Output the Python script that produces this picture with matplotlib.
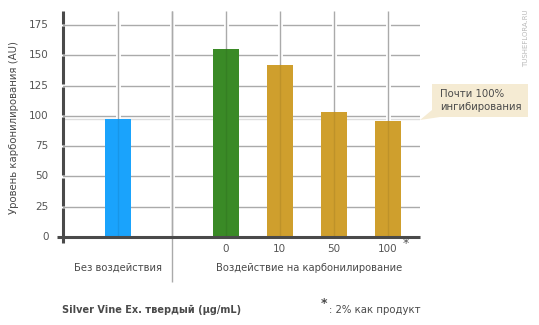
import matplotlib
matplotlib.use("Agg")
import matplotlib.pyplot as plt
import matplotlib.patheffects as pe
from matplotlib.patches import Polygon

plt.rcParams['font.family'] = ['DejaVu Sans']

# Data
dose_labels = ["0", "10", "50", "100"]
control_value = 97
dose_values = [155, 142, 103, 96]
y_ticks = [0, 25, 50, 75, 100, 125, 150, 175]
group_labels = ["Без воздействия", "Воздействие на карбонилирование"]

BLUE = "#1aa3fc"
GREEN = "#3a8a26"
GOLD = "#cf9f2d"
GRID = "#aaaaaa"
TXT = "#555555"
DARK = "#4a4a4a"

fig = plt.figure(figsize=(5.39, 3.25), dpi=100)
ax = fig.add_axes([63/539, 1-243/325, (420-63)/539, (243-11)/325])
ymin, ymax = -4.95, 186.5
ax.set_xlim(-1.02, 5.6)
ax.set_ylim(ymin, ymax)
for s in ax.spines.values():
    s.set_visible(False)
ax.set_xticks([])
ax.set_yticks([])

positions = [0, 2, 3, 4, 5]
values = [control_value] + dose_values
colors = [BLUE, GREEN, GOLD, GOLD, GOLD]

# horizontal grid
for t in y_ticks[1:]:
    ax.axhline(t, color=GRID, lw=1.0, zorder=1)
# reference line at control level
ax.axhline(control_value, color="#dddddd", lw=1.0, zorder=1.2)

# vertical grid with a white halo so horizontal lines look broken
halo = [pe.Stroke(linewidth=3.5, foreground="white"), pe.Normal()]
for x in range(0, 6):
    ax.plot([x, x], [0, ymax], color=GRID, lw=1.0, zorder=1.5,
            path_effects=halo, solid_capstyle="butt")
# separator between groups extends below the axis
ax.plot([1, 1], [-37.5, ymax], color=GRID, lw=1.0, zorder=1.5,
        clip_on=False, solid_capstyle="butt")

ax.bar(positions, values, width=0.48, color=colors, zorder=2)
for x, v in zip(positions, values):
    ax.plot([x, x], [0, v], color="black", alpha=0.08, lw=1, zorder=2.5)

# baseline
ax.plot([-1.13, 5.6], [0, 0], color=DARK, lw=2.2, zorder=3, clip_on=False,
        solid_capstyle="butt")

# left spine, broken at the grid lines
edges = [ymin] + y_ticks[1:] + [ymax]
for a, b in zip(edges[:-1], edges[1:]):
    lo = a + 0.9 if a in y_ticks else a
    hi = b - 0.9 if b in y_ticks else b
    ax.plot([-1.02, -1.02], [lo, hi], color=DARK, lw=2.2, zorder=3,
            clip_on=False, solid_capstyle="butt")

# y tick labels
for t in y_ticks:
    ax.text(-1.29, t, str(t), ha="right", va="center", fontsize=7.5, color=TXT)

# dose labels
for x, lab in zip(positions[1:], dose_labels):
    ax.text(x, -10, lab, ha="center", va="center", fontsize=7.5, color=TXT)
ax.text(5.34, -5.0, "*", ha="center", va="center", fontsize=9, color=TXT)

ax.text(0, -25.5, group_labels[0], ha="center", va="center", fontsize=7.2, color=DARK)
ax.text(3.55, -25.5, group_labels[1], ha="center", va="center", fontsize=7.2, color=DARK)

fig.text(14/539, 1-128/325, "Уровень карбонилирования (AU)", rotation=90,
         ha="center", va="center", fontsize=7.3, color=DARK)

fig.text(62/539, 1-310/325, "Silver Vine Ex. твердый (μg/mL)", ha="left", va="center",
         fontsize=7.0, fontweight="bold", color=DARK)
fig.text(421/539, 1-310/325, ": 2% как продукт", ha="right", va="center",
         fontsize=7.3, color=DARK)
fig.text(324/539, 1-303/325, "*", ha="center", va="center", fontsize=9, color=DARK,
         fontweight="bold")

# callout
callout_color = "#f5ebd3"
fig.patches.append(Polygon([(432/539, 1-84/325), (528/539, 1-84/325), (528/539, 1-117/325),
                            (440/539, 1-117/325), (420/539, 1-120/325), (432/539, 1-110/325)],
                           closed=True, transform=fig.transFigure, facecolor=callout_color,
                           edgecolor="none"))
fig.text(440/539, 1-100.5/325, "Почти 100%\nингибирования", ha="left", va="center",
         fontsize=7.3, color=DARK, linespacing=1.35)

# watermark
fig.text(526/539, 1-38/325, "TUSHEFLORA.RU", rotation=90, ha="center", va="center",
         fontsize=5, color="#bbbbbb")

fig.savefig("out.png", dpi=100)
